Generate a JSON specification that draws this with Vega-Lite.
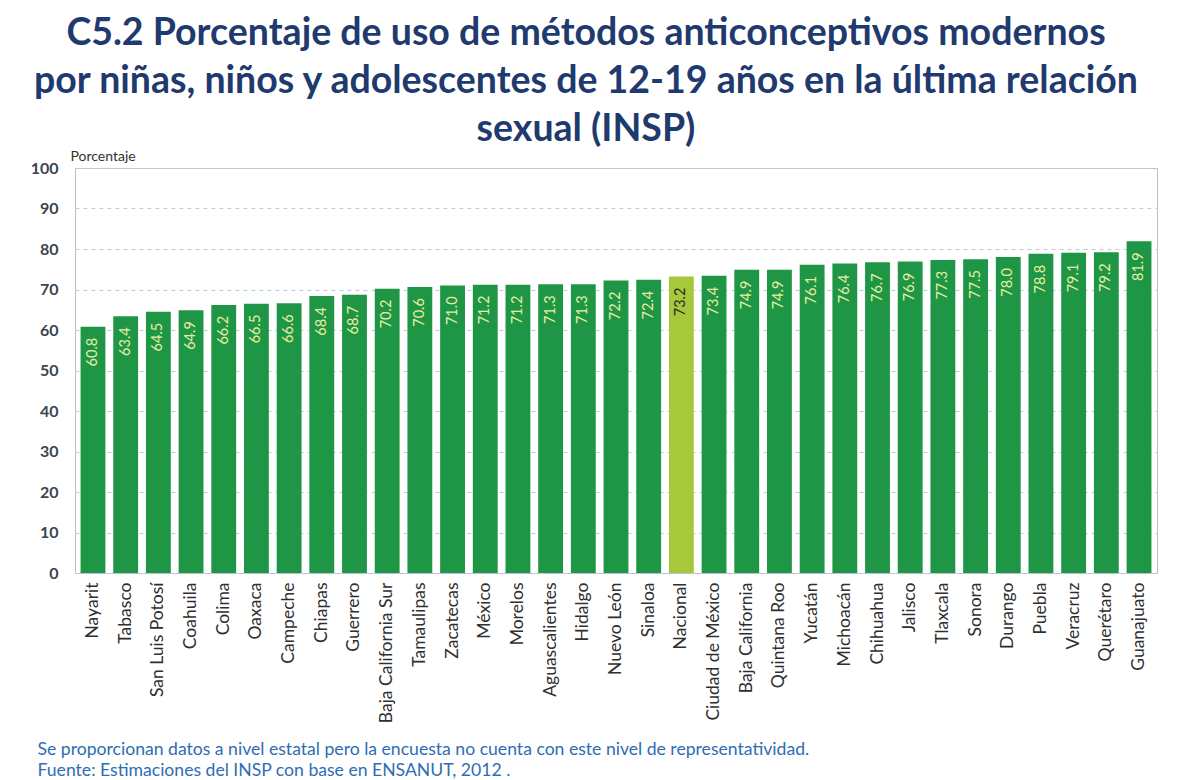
{
  "$schema": "https://vega.github.io/schema/vega-lite/v6.json",
  "width": 1082,
  "height": 405,
  "autosize": {"type": "none"},
  "padding": {"left": 75, "top": 168, "right": 30, "bottom": 207},
  "background": "white",
  "title": {
    "text": ["C5.2 Porcentaje  de uso de métodos anticonceptivos modernos", "por niñas, niños y adolescentes de 12-19 años en la última relación", "sexual (INSP)"],
    "font": "Lato",
    "fontSize": 37.5,
    "fontWeight": "bold",
    "color": "#1f3a6e",
    "anchor": "middle",
    "lineHeight": 48,
    "dx": -30,
    "offset": 1
  },
  "data": {
    "values": [
      {"estado": "Nayarit", "pct": 60.8},
      {"estado": "Tabasco", "pct": 63.4},
      {"estado": "San Luis Potosí", "pct": 64.5},
      {"estado": "Coahuila", "pct": 64.9},
      {"estado": "Colima", "pct": 66.2},
      {"estado": "Oaxaca", "pct": 66.5},
      {"estado": "Campeche", "pct": 66.6},
      {"estado": "Chiapas", "pct": 68.4},
      {"estado": "Guerrero", "pct": 68.7},
      {"estado": "Baja California Sur", "pct": 70.2},
      {"estado": "Tamaulipas", "pct": 70.6},
      {"estado": "Zacatecas", "pct": 71.0},
      {"estado": "México", "pct": 71.2},
      {"estado": "Morelos", "pct": 71.2},
      {"estado": "Aguascalientes", "pct": 71.3},
      {"estado": "Hidalgo", "pct": 71.3},
      {"estado": "Nuevo León", "pct": 72.2},
      {"estado": "Sinaloa", "pct": 72.4},
      {"estado": "Nacional", "pct": 73.2},
      {"estado": "Ciudad de México", "pct": 73.4},
      {"estado": "Baja California", "pct": 74.9},
      {"estado": "Quintana Roo", "pct": 74.9},
      {"estado": "Yucatán", "pct": 76.1},
      {"estado": "Michoacán", "pct": 76.4},
      {"estado": "Chihuahua", "pct": 76.7},
      {"estado": "Jalisco", "pct": 76.9},
      {"estado": "Tlaxcala", "pct": 77.3},
      {"estado": "Sonora", "pct": 77.5},
      {"estado": "Durango", "pct": 78.0},
      {"estado": "Puebla", "pct": 78.8},
      {"estado": "Veracruz", "pct": 79.1},
      {"estado": "Querétaro", "pct": 79.2},
      {"estado": "Guanajuato", "pct": 81.9}
    ]
  },
  "encoding": {
    "x": {
      "field": "estado",
      "type": "nominal",
      "sort": null,
      "scale": {"paddingInner": 0.24, "paddingOuter": 0.17},
      "axis": {
        "labelAngle": -90,
        "labelAlign": "right",
        "labelBaseline": "middle",
        "labelFont": "Lato",
        "labelFontSize": 17.5,
        "labelColor": "#2f2f2f",
        "labelPadding": 9,
        "ticks": false,
        "domain": false,
        "title": ["Se proporcionan datos a nivel estatal pero la encuesta no cuenta con este nivel de representatividad.", "Fuente: Estimaciones del  INSP con base en  ENSANUT, 2012 ."],
        "titleFont": "Lato",
        "titleFontSize": 17.6,
        "titleFontWeight": "normal",
        "titleColor": "#2e6db4",
        "titleAlign": "left",
        "titleBaseline": "alphabetic",
        "titleLineHeight": 21,
        "titleX": -38,
        "titleY": 181
      }
    },
    "y": {
      "field": "pct",
      "type": "quantitative",
      "scale": {"domain": [0, 100]},
      "axis": {
        "values": [0, 10, 20, 30, 40, 50, 60, 70, 80, 90, 100],
        "labelFont": "Lato",
        "labelFontSize": 16,
        "labelFontWeight": "bold",
        "labelColor": "#3a4550",
        "labelPadding": 17,
        "ticks": false,
        "domain": false,
        "gridColor": "#b9cde0",
        "gridDash": [4, 4],
        "title": "Porcentaje",
        "titleAngle": 0,
        "titleAlign": "left",
        "titleBaseline": "alphabetic",
        "titleX": -5,
        "titleY": -8,
        "titleFont": "Lato",
        "titleFontSize": 14,
        "titleFontWeight": "normal",
        "titleColor": "#333333"
      }
    }
  },
  "layer": [
    {
      "mark": {"type": "bar"},
      "encoding": {
        "color": {
          "condition": {"test": "datum.estado === 'Nacional'", "value": "#a6c83a"},
          "value": "#1f9646"
        }
      }
    },
    {
      "mark": {"type": "text", "angle": -90, "align": "right", "baseline": "middle", "dx": -11, "font": "Lato", "fontSize": 14.5},
      "encoding": {
        "text": {"field": "pct", "type": "quantitative", "format": ".1f"},
        "color": {
          "condition": {"test": "datum.estado === 'Nacional'", "value": "#2b2b2b"},
          "value": "#e6efa0"
        }
      }
    }
  ],
  "config": {"view": {"stroke": "#b8c0c8", "strokeWidth": 1}}
}
